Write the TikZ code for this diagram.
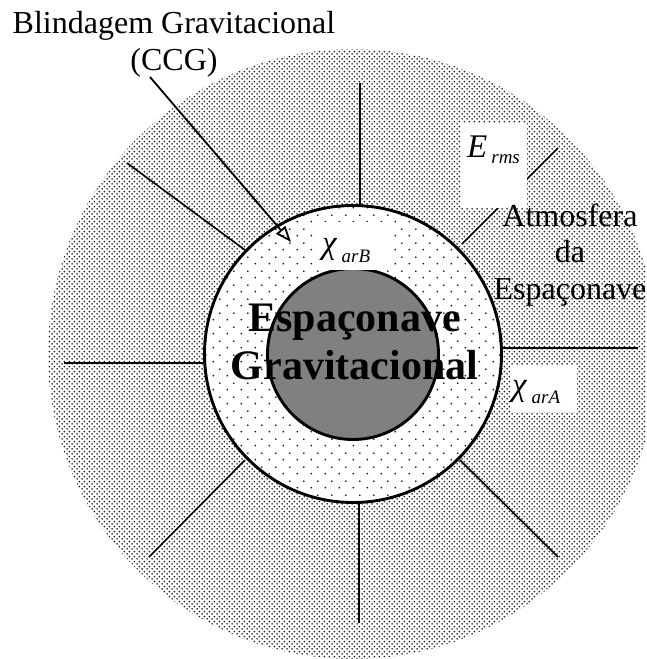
\documentclass[tikz,border=0pt]{standalone}
\usepackage{fontspec}
\setmainfont{Liberation Serif}
\usetikzlibrary{patterns.meta,arrows.meta}
\tikzdeclarepattern{name=densedots, type=uncolored,
  bounding box={(0pt,0pt) and (5.2pt,5.2pt)}, tile size={(5.2pt,5.2pt)},
  code={\pgfpathcircle{\pgfpoint{1.3pt}{1.3pt}}{1.05pt}\pgfpathcircle{\pgfpoint{3.9pt}{3.9pt}}{1.05pt}\pgfusepath{fill}}}
\tikzdeclarepattern{name=sparsedots, type=uncolored,
  bounding box={(0pt,0pt) and (14pt,14pt)}, tile size={(14pt,14pt)},
  code={\pgfpathcircle{\pgfpoint{3.5pt}{3.5pt}}{1.05pt}\pgfpathcircle{\pgfpoint{10.5pt}{10.5pt}}{1.05pt}\pgfusepath{fill}}}
\definecolor{coregray}{RGB}{128,128,128}
\begin{document}
\begin{tikzpicture}[x=1pt,y=-1pt,
  ray/.style={line width=1.6pt},
  ring/.style={line width=2.9pt},
  whitebox/.style={fill=white, inner sep=0pt},
  big/.style={font=\fontsize{32}{36.5}\selectfont, align=center, inner sep=0pt},
  sym/.style={anchor=base west, inner sep=0pt, font=\fontsize{33}{33}\selectfont\itshape},
  pointer/.style={line width=1.8pt, -{Triangle[open,length=16pt,width=12pt]}}]
\useasboundingbox (0,0) rectangle (646,659);
\clip (0,0) rectangle (646,659);
\coordinate (c) at (353,354);
% outer atmosphere
\fill[pattern=densedots, pattern color=black!90] (c) circle (305);
% radial lines
\draw[ray] (360,83) -- (360,206);
\draw[ray] (359,502) -- (359,623);
\draw[ray] (64,363) -- (206,363);
\draw[ray] (503,348) -- (638,348);
\draw[ray] (127,163) -- (245,250);
\draw[ray] (245,460) -- (149,557);
\draw[ray] (460,460) -- (558,557);
\draw[ray] (462,244) -- (558,148);
% shield ring
\fill[white] (c) circle (148.5);
\fill[pattern=sparsedots, pattern color=black!90] (c) circle (148.5);
\draw[ring] (c) circle (148.5);
% core
\filldraw[ring, fill=coregray] (c) circle (85.5);
% label boxes
\node[whitebox, minimum width=66pt, minimum height=85pt] (ebox) at (494,165.5) {};
\node[sym] (erms) at (467,157) {E\hspace{4pt}\raisebox{-6pt}{\fontsize{19}{19}\selectfont rms}};
\node[whitebox, minimum width=73pt, minimum height=48pt] (bbox) at (353.5,246) {};
\node[sym] (chib) at (322,253) {χ\hspace{5pt}\raisebox{-9pt}{\fontsize{19}{19}\selectfont arB}};
\node[whitebox, minimum width=67pt, minimum height=47pt] (abox) at (543.5,388.5) {};
\node[sym] (chia) at (512,395) {χ\hspace{5pt}\raisebox{-8pt}{\fontsize{19}{19}\selectfont arA}};
% texts
\node[big] (title) at (174,44.3) {Blindagem Gravitacional\\(CCG)};
\node[big] (atm) at (570,254.8) {Atmosfera\\da\\Espaçonave};
\node[font=\bfseries\fontsize{42}{48}\selectfont, align=center, inner sep=0pt] (ship) at (354.5,342) {Espaçonave\\Gravitacional};
% pointer
\coordinate (a1) at (150,77);
\coordinate (a2) at (291,242);
\draw[pointer] (a1) -- (a2);
\end{tikzpicture}
\end{document}
